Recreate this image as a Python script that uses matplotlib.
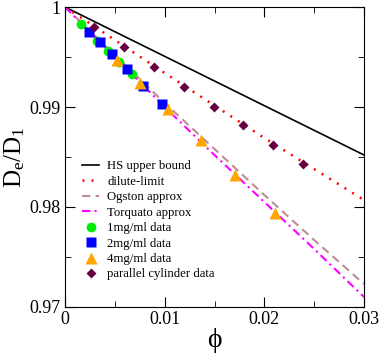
import numpy as np
import matplotlib
matplotlib.use('Agg')
import matplotlib.pyplot as plt

plt.rcParams['font.family'] = ['Liberation Serif', 'DejaVu Serif']
plt.rcParams['mathtext.fontset'] = 'custom'
plt.rcParams['mathtext.rm'] = 'Liberation Serif'
plt.rcParams['mathtext.it'] = 'Liberation Serif'

# curves (phi, De/D1)
hs_phi = [0.0, 0.03]
hs_D = [1.0, 0.9852]

dilute_phi = [0.0, 0.01, 0.02, 0.03]
dilute_D = [1.0, 0.9934, 0.9869, 0.9807]

ogston_phi = [0.0, 0.005, 0.01, 0.015, 0.02, 0.025, 0.03]
ogston_D = [1.0, 0.9952, 0.9904, 0.9858, 0.9812, 0.9767, 0.9723]

torq_phi = [0.0, 0.005, 0.01, 0.015, 0.02, 0.025, 0.03]
torq_D = [1.0, 0.9950, 0.9900, 0.9852, 0.9805, 0.9758, 0.9710]

# data
phi_1mg = [0.0016, 0.0032, 0.0043, 0.0054, 0.0067]
D_1mg = [0.9983, 0.9966, 0.9956, 0.9945, 0.9933]

phi_2mg = [0.0024, 0.0035, 0.0047, 0.0062, 0.0078, 0.0097]
D_2mg = [0.9975, 0.9965, 0.9953, 0.9938, 0.9921, 0.9903]

phi_4mg = [0.0052, 0.0075, 0.0103, 0.0136, 0.0171, 0.0211]
D_4mg = [0.9947, 0.9924, 0.9898, 0.9867, 0.9832, 0.9794]

phi_cyl = [0.0029, 0.0059, 0.0089, 0.0119, 0.0149, 0.0179, 0.0209, 0.0239]
D_cyl = [0.9980, 0.9960, 0.9940, 0.9920, 0.9900, 0.9882, 0.9862, 0.9843]

fig = plt.figure(figsize=(3.81, 3.54), dpi=100)
ax = fig.add_axes([0.1706, 0.1328, 0.7848, 0.8474])

ax.plot(hs_phi, hs_D, color='black', lw=1.2, label='HS upper bound')
ax.plot(dilute_phi, dilute_D, color='red', lw=1.8, linestyle=(0, (0.8, 2.8)),
        label='dilute-limit')
ax.plot(ogston_phi, ogston_D, color='#bc8f8f', lw=1.5, linestyle=(0, (4, 2.5)),
        label='Ogston approx')
ax.plot(torq_phi, torq_D, color='magenta', lw=1.5, linestyle=(0, (4, 2, 1, 2)),
        label='Torquato approx')

ax.plot(phi_1mg, D_1mg, 'o', color='#00ee00', ms=7, mec='none', label='1mg/ml data')
ax.plot(phi_2mg, D_2mg, 's', color='blue', ms=6.5, mec='none', label='2mg/ml data')
ax.plot(phi_4mg, D_4mg, '^', color='orange', ms=8, mec='none', label='4mg/ml data')
ax.plot(phi_cyl, D_cyl, 'D', color='#660040', ms=5.5, mec='none',
        label='parallel cylinder data')

ax.set_xlim(0, 0.03)
ax.set_ylim(0.97, 1.0)
ax.set_xticks([0, 0.01, 0.02, 0.03])
ax.set_xticklabels(['0', '0.01', '0.02', '0.03'])
ax.set_yticks([0.97, 0.98, 0.99, 1.0])
ax.set_yticklabels(['0.97', '0.98', '0.99', '1'])
ax.set_xticks([0.005, 0.015, 0.025], minor=True)
ax.set_yticks([0.975, 0.985, 0.995], minor=True)
ax.tick_params(which='both', direction='in', top=True, right=True, labelsize=13, pad=3)
ax.tick_params(which='major', length=7)
ax.tick_params(which='minor', length=4)

ax.set_xlabel('ϕ', fontsize=20, labelpad=0)
ax.set_ylabel(r'$\mathrm{D_e/D_1}$', fontsize=18, labelpad=2)

ax.legend(loc='lower left', frameon=False, fontsize=9.2, handlelength=1.4,
          labelspacing=0.27, bbox_to_anchor=(0.017, 0.05), handletextpad=0.6)

fig.savefig('out.png', dpi=100)
